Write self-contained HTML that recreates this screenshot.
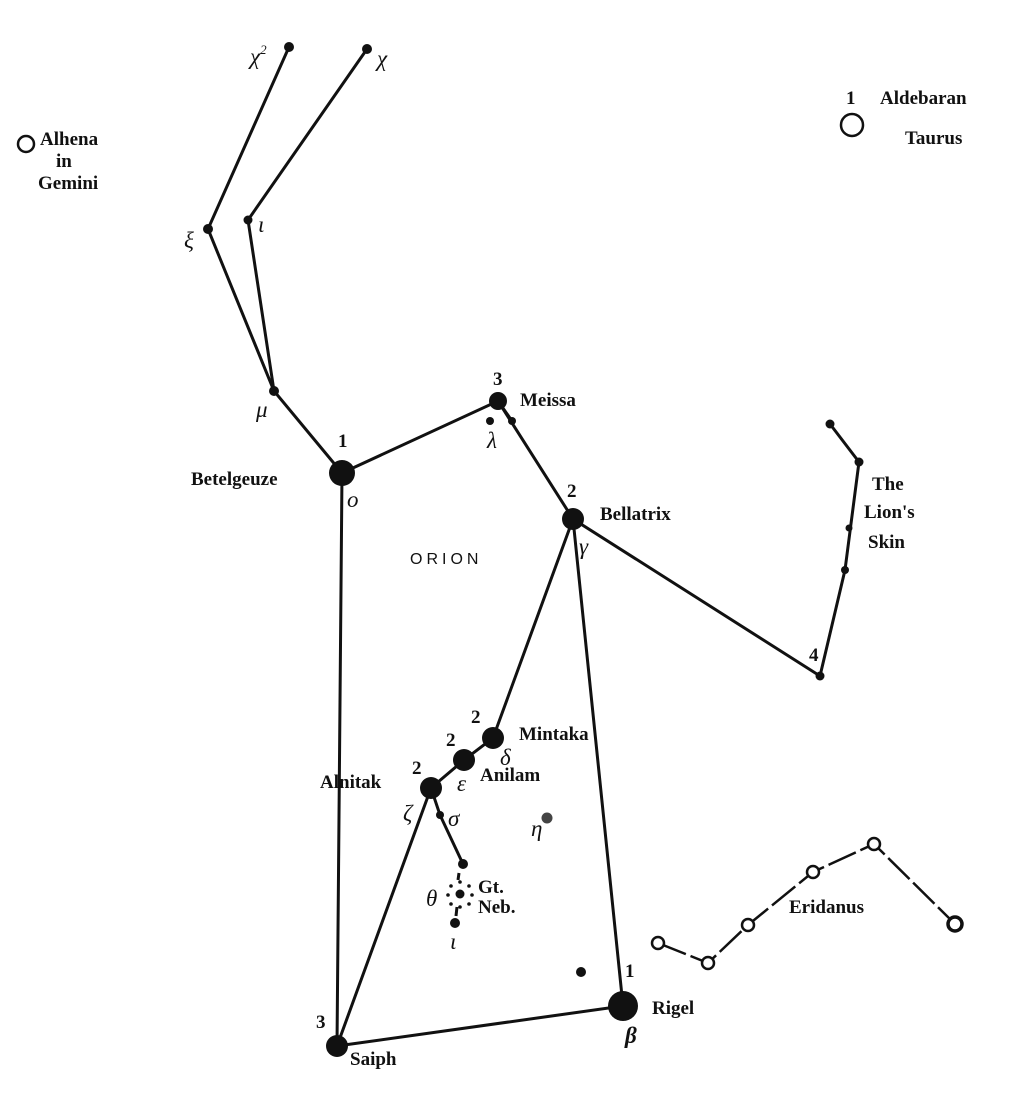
<!DOCTYPE html>
<html><head><meta charset="utf-8"><style>
html,body{margin:0;padding:0;background:#fff}
svg{display:block}
text{font-family:"Liberation Serif",serif;fill:#111}
.b{font-weight:bold;font-size:19px}
.i{font-style:italic;font-size:23px}
</style></head><body>
<svg width="1024" height="1101" viewBox="0 0 1024 1101" xmlns="http://www.w3.org/2000/svg">
<g stroke="#111" stroke-width="3" fill="none">
<polyline points="289,47 208,229 274,391 342,473 498,401 573,519 820,676 845,570 859,462 830,424"/>
<polyline points="367,49 248,220 274,391"/>
<polyline points="498,401 512,421"/>
<polyline points="342,473 337,1046 623,1006 573,519 493,738 464,760 431,788 337,1046"/>
<polyline points="431,788 440,815 463,864"/>
<line x1="459" y1="873" x2="458" y2="880"/>
<line x1="457" y1="907" x2="456" y2="916"/>
<polyline points="658,943 708,963 748,925 813,872 874,844 955,924" stroke-width="2.5" stroke-dasharray="30,5"/>
</g>
<g fill="#111">
<circle cx="289" cy="47" r="5"/><circle cx="367" cy="49" r="5"/>
<circle cx="208" cy="229" r="5"/><circle cx="248" cy="220" r="4.5"/>
<circle cx="274" cy="391" r="5"/><circle cx="342" cy="473" r="13"/>
<circle cx="498" cy="401" r="9"/><circle cx="490" cy="421" r="4"/><circle cx="512" cy="421" r="4"/>
<circle cx="573" cy="519" r="11"/><circle cx="830" cy="424" r="4.5"/><circle cx="859" cy="462" r="4.5"/>
<circle cx="849" cy="528" r="3.5"/><circle cx="845" cy="570" r="4"/><circle cx="820" cy="676" r="4.5"/>
<circle cx="493" cy="738" r="11"/><circle cx="464" cy="760" r="11"/><circle cx="431" cy="788" r="11"/>
<circle cx="440" cy="815" r="4"/><circle cx="463" cy="864" r="5"/>
<circle cx="547" cy="818" r="5.5" fill="#444"/>
<circle cx="460" cy="894" r="4.5"/><circle cx="455" cy="923" r="5"/>
<circle cx="581" cy="972" r="5"/><circle cx="623" cy="1006" r="15"/><circle cx="337" cy="1046" r="11"/>
</g>
<g fill="#111">
<circle cx="460" cy="882" r="1.8"/><circle cx="469" cy="886" r="1.8"/><circle cx="472" cy="895" r="1.8"/>
<circle cx="469" cy="904" r="1.8"/><circle cx="460" cy="907" r="1.8"/><circle cx="451" cy="904" r="1.8"/>
<circle cx="448" cy="895" r="1.8"/><circle cx="451" cy="886" r="1.8"/>
</g>
<g fill="#fff" stroke="#111" stroke-width="2.5">
<circle cx="26" cy="144" r="8"/><circle cx="852" cy="125" r="11"/>
<circle cx="658" cy="943" r="6"/><circle cx="708" cy="963" r="6"/><circle cx="748" cy="925" r="6"/>
<circle cx="813" cy="872" r="6"/><circle cx="874" cy="844" r="6"/><circle cx="955" cy="924" r="7" stroke-width="3.5"/>
</g>
<text class="i" x="250" y="64">χ<tspan font-size="13" dy="-10">2</tspan></text>
<text class="i" x="377" y="66">χ</text>
<text class="i" x="184" y="248">ξ</text>
<text class="i" x="258" y="232" font-size="17">ι</text>
<text class="i" x="256" y="417">μ</text>
<text class="b" x="40" y="145">Alhena</text>
<text class="b" x="56" y="167">in</text>
<text class="b" x="38" y="189">Gemini</text>
<text class="b" x="846" y="104">1</text>
<text class="b" x="880" y="104">Aldebaran</text>
<text class="b" x="905" y="144">Taurus</text>
<text class="b" x="338" y="447" font-size="16">1</text>
<text class="b" x="191" y="485">Betelgeuze</text>
<text class="i" x="347" y="507" font-size="17">o</text>
<text class="b" x="493" y="385">3</text>
<text class="b" x="520" y="406">Meissa</text>
<text class="i" x="487" y="448" font-size="19">λ</text>
<text class="b" x="567" y="497">2</text>
<text class="b" x="600" y="520">Bellatrix</text>
<text class="i" x="579" y="554" font-size="19">γ</text>
<text x="410" y="564" style="font-family:'Liberation Sans',sans-serif;font-size:16px;letter-spacing:4px">ORION</text>
<text class="b" x="872" y="490">The</text>
<text class="b" x="864" y="518">Lion's</text>
<text class="b" x="868" y="548">Skin</text>
<text class="b" x="809" y="661" font-size="15">4</text>
<text class="b" x="471" y="723">2</text>
<text class="b" x="519" y="740">Mintaka</text>
<text class="i" x="500" y="765" font-size="20">δ</text>
<text class="b" x="446" y="746">2</text>
<text class="b" x="480" y="781">Anilam</text>
<text class="i" x="457" y="791" font-size="20">ε</text>
<text class="b" x="412" y="774">2</text>
<text class="b" x="320" y="788">Alnitak</text>
<text class="i" x="403" y="821" font-size="22">ζ</text>
<text class="i" x="448" y="826" font-size="20">σ</text>
<text class="i" x="531" y="836" font-size="20">η</text>
<text class="b" x="478" y="893">Gt.</text>
<text class="b" x="478" y="913">Neb.</text>
<text class="i" x="426" y="906" font-size="21">θ</text>
<text class="i" x="450" y="949" font-size="21">ι</text>
<text class="b" x="789" y="913">Eridanus</text>
<text class="b" x="625" y="977" font-size="17">1</text>
<text class="b" x="652" y="1014">Rigel</text>
<text class="i" x="625" y="1043" style="font-weight:bold">β</text>
<text class="b" x="316" y="1028" font-size="17">3</text>
<text class="b" x="350" y="1065">Saiph</text>
</svg>
</body></html>
